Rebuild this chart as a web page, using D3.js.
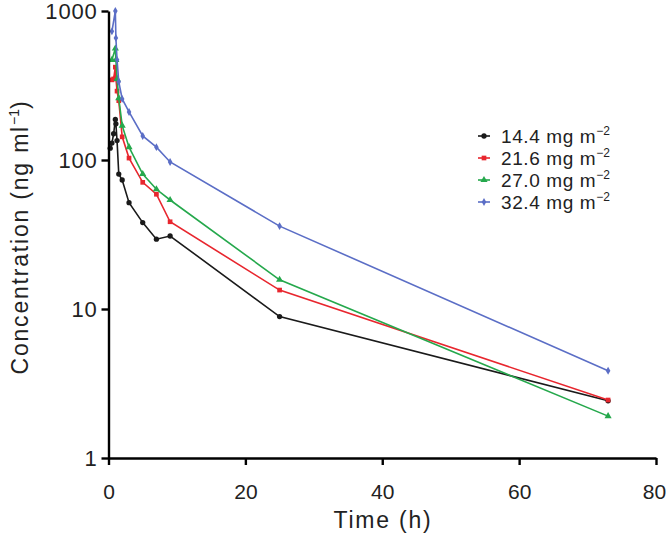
<!DOCTYPE html>
<html>
<head>
<meta charset="utf-8">
<script src="https://cdn.jsdelivr.net/npm/d3@7"></script>
<style>
  html, body { margin: 0; padding: 0; background: #fff; }
  svg { display: block; font-family: "Liberation Sans", Arial, Helvetica, sans-serif; }
</style>
</head>
<body>
<svg id="chart" width="668" height="545"></svg>
<script>
// ---- data ----
const times = [0.25, 0.5, 0.75, 1, 1.08, 1.25, 1.5, 2, 3, 5, 7, 9, 25, 73];
const dose14 = [120, 130, 150, 187, 175, 135, 80.5, 73.4, 51.7, 38, 29.4, 30.9, 8.9, 2.42];
const dose21 = [null, 345, 350, 420, 355, 290, 250, 143, 103, 70.8, 58.9, 38.5, 13.4, 2.45];
const dose27 = [null, 470, null, 560, 470, 350, 260, 170, 122, 80.5, 63.6, 53.9, 15.7, 1.91];
const dose32 = [null, 730, null, 1000, 660, 470, 335, 257, 210, 145, 122, 97, 36, 3.85];
const seriesNames = ["14.4 mg m", "21.6 mg m", "27.0 mg m", "32.4 mg m"];
const seriesColors = ["#1a1a1a", "#e8262e", "#25a84c", "#5b6ec6"];
const xTicks = [0, 20, 40, 60, 80];
const yTicks = [1, 10, 100, 1000];

const svg = d3.select("#chart");
const x = d3.scaleLinear().domain([0, 80]).range([108.5, 656]);
const y = d3.scaleLog().domain([1, 1000]).range([458, 11]);

const allSeries = [dose14, dose21, dose27, dose32];
const symbols = [d3.symbolCircle, d3.symbolSquare, d3.symbolTriangle, d3.symbolDiamond];
const symSizes = [22, 22, 22, 18];

const line = d3.line()
  .defined(d => d.v != null)
  .x(d => x(d.t))
  .y(d => y(d.v));

allSeries.forEach((vals, i) => {
  const pts = times.map((t, j) => ({ t: t, v: vals[j] })).filter(d => d.v != null);
  svg.append("path")
    .datum(pts)
    .attr("fill", "none")
    .attr("stroke", seriesColors[i])
    .attr("stroke-width", 1.6)
    .attr("d", line);
  svg.append("g").selectAll("path")
    .data(pts)
    .join("path")
    .attr("transform", d => `translate(${x(d.t)},${y(d.v)})`)
    .attr("d", d3.symbol().type(symbols[i]).size(symSizes[i]))
    .attr("fill", seriesColors[i]);
});

// axes
const xAxis = svg.append("g")
  .attr("transform", "translate(0,458)")
  .call(d3.axisBottom(x).tickValues(xTicks).tickSize(7).tickSizeOuter(0).tickPadding(19));
const yAxis = svg.append("g")
  .attr("transform", "translate(108.5,0)")
  .call(d3.axisLeft(y).tickValues(yTicks).tickFormat(d3.format("d")).tickSize(7).tickSizeOuter(0).tickPadding(4));

[xAxis, yAxis].forEach(g => {
  g.select(".domain").attr("stroke", "#000").attr("stroke-width", 2.4);
  g.selectAll(".tick line").attr("stroke", "#000").attr("stroke-width", 2.4);
  g.selectAll(".tick text").attr("fill", "#222")
    .style("font-family", "'Liberation Sans', Arial, sans-serif");
});
xAxis.selectAll(".tick text").style("font-size", "21px");
xAxis.selectAll(".tick:last-of-type text").attr("dx", "-2");
yAxis.selectAll(".tick text").style("font-size", "22px").style("letter-spacing", "0.8px");

// axis titles
svg.append("text")
  .attr("x", 383).attr("y", 528)
  .attr("text-anchor", "middle")
  .attr("fill", "#222")
  .style("font-size", "23px")
  .style("letter-spacing", "1.8px")
  .text("Time (h)");

const yl = svg.append("text")
  .attr("transform", "translate(28,237) rotate(-90)")
  .attr("text-anchor", "middle")
  .attr("fill", "#222")
  .style("font-size", "23px")
  .style("letter-spacing", "1.8px");
yl.append("tspan").text("Concentration (ng ml");
yl.append("tspan").attr("dy", -9).style("font-size", "14px").style("letter-spacing", "0px").text("−1");
yl.append("tspan").attr("dy", 9).text(")");

// legend
const legend = svg.append("g").attr("transform", "translate(478,136)");
seriesNames.forEach((name, i) => {
  const g = legend.append("g").attr("transform", `translate(0,${i * 22})`);
  g.append("line").attr("x1", 0).attr("x2", 12).attr("y1", 0).attr("y2", 0)
    .attr("stroke", seriesColors[i]).attr("stroke-width", 1.6);
  g.append("path").attr("transform", "translate(6,0)")
    .attr("d", d3.symbol().type(symbols[i]).size(symSizes[i]))
    .attr("fill", seriesColors[i]);
  const t = g.append("text").attr("x", 23).attr("y", 7)
    .attr("fill", "#222").style("font-size", "19px").style("letter-spacing", "0.6px");
  t.append("tspan").text(name);
  t.append("tspan").attr("dy", -8).style("font-size", "12px").style("letter-spacing", "0px").text("−2");
});
</script>
</body>
</html>
